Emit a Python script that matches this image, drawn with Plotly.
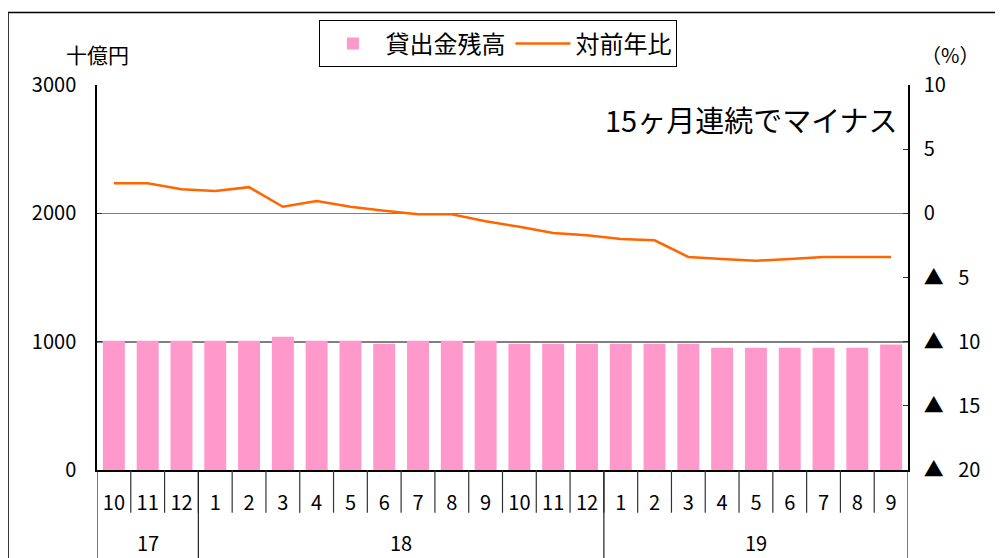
import plotly.graph_objects as go

months = ["10", "11", "12", "1", "2", "3", "4", "5", "6", "7", "8", "9",
          "10", "11", "12", "1", "2", "3", "4", "5", "6", "7", "8", "9"]
years = ["17", "18", "19"]
year_counts = [3, 12, 9]
loans = [1008, 1008, 1008, 1008, 1008, 1039, 1008, 1008, 984, 1008, 1008, 1008,
         984, 984, 984, 984, 984, 984, 953, 953, 953, 953, 953, 977]
yoy = [2.35, 2.35, 1.88, 1.75, 2.04, 0.51, 0.95, 0.51, 0.2, -0.08, -0.08, -0.62,
       -1.05, -1.53, -1.7, -2.0, -2.1, -3.4, -3.55, -3.7, -3.55, -3.4, -3.4, -3.4]
left_ticks = [0, 1000, 2000, 3000]
right_ticks = [10, 5, 0, -5, -10, -15, -20]
right_text = ["10", "5", "0", "▲\u2002 5", "▲\u2002 10", "▲\u2002 15", "▲\u2002 20"]

FONT = "Noto Sans CJK JP"
idx = list(range(len(months)))

fig = go.Figure()
fig.add_trace(go.Bar(x=idx, y=loans, name="貸出金残高", marker_color="#FF99CC",
                     marker_line_width=0, width=0.65))
fig.add_trace(go.Scatter(x=idx, y=yoy, name="対前年比", yaxis="y2", mode="lines",
                         line=dict(color="#FF6600", width=2.5)))

shapes = []
# black gridline at 1000
shapes.append(dict(type="line", xref="paper", yref="y", x0=0, x1=1, y0=1000, y1=1000,
                   line=dict(color="black", width=1.5), layer="below"))
# month separators
for i in range(1, len(months)):
    shapes.append(dict(type="line", xref="x", yref="paper", x0=i - 0.5, x1=i - 0.5,
                       y0=0, y1=-0.111, line=dict(color="#333", width=1.2)))
# year separators
b = -0.5
bounds = [b]
for c in year_counts:
    b += c
    bounds.append(b)
for bx in bounds:
    shapes.append(dict(type="line", xref="x", yref="paper", x0=bx, x1=bx,
                       y0=0, y1=-0.3, line=dict(color="#222", width=1.2)))
# outer frame
shapes.append(dict(type="rect", xref="paper", yref="paper", x0=-0.1097, x1=1.3,
                   y0=-0.4, y1=1.1886, line=dict(color="black", width=1.5)))

annotations = []
start = 0
for yv, c in zip(years, year_counts):
    annotations.append(dict(x=start + (c - 1) / 2, y=-0.189, xref="x", yref="paper",
                            yanchor="middle", xanchor="center",
                            text=yv, showarrow=False, font=dict(size=20, family=FONT, color="black")))
    start += c
annotations.append(dict(x=0, y=1.08, xref="paper", yref="paper", text="十億円",
                        xanchor="center", yanchor="middle",
                        showarrow=False, font=dict(size=21, family=FONT, color="black")))
annotations.append(dict(x=1.052, y=1.08, xref="paper", yref="paper", text="（%）",
                        xanchor="center", yanchor="middle",
                        showarrow=False, font=dict(size=20, family=FONT, color="black")))
annotations.append(dict(x=0.99, y=0.912, xref="paper", yref="paper", xanchor="right",
                        yanchor="middle",
                        text="15ヶ月連続でマイナス", showarrow=False,
                        font=dict(size=29, family=FONT, color="black")))

fig.update_layout(
    width=1003, height=558,
    margin=dict(l=89, r=103, t=75, b=96),
    paper_bgcolor="white", plot_bgcolor="white",
    font=dict(family=FONT, size=20, color="black"),
    bargap=0.35,
    showlegend=True,
    legend=dict(orientation="h", x=0.495, xanchor="center", y=1.168, yanchor="top",
                bordercolor="black", borderwidth=1, font=dict(size=24, family=FONT),
                bgcolor="white", itemwidth=55),
    xaxis=dict(range=[-0.5, len(months) - 0.5], tickvals=idx, ticktext=months,
               showgrid=False, zeroline=False, showline=True, linecolor="black",
               linewidth=1.5, ticks="", ticklabelstandoff=14,
               tickfont=dict(size=20, family=FONT)),
    yaxis=dict(range=[0, 3000], tickvals=left_ticks, showgrid=True, gridcolor="#808080",
               gridwidth=1, zeroline=False, showline=True, linecolor="black", linewidth=1.5,
               ticks="inside", ticklen=5, tickcolor="#333", ticklabelstandoff=15,
               tickfont=dict(size=20, family=FONT)),
    yaxis2=dict(range=[-20, 10], tickvals=right_ticks, ticktext=right_text,
                overlaying="y", side="right", showgrid=False, zeroline=False,
                showline=True, linecolor="black", linewidth=1.5, ticks="inside",
                ticklen=5, tickcolor="#333", ticklabelstandoff=10,
                tickfont=dict(size=20, family=FONT)),
    shapes=shapes,
    annotations=annotations,
)

fig.write_html("out.html")
